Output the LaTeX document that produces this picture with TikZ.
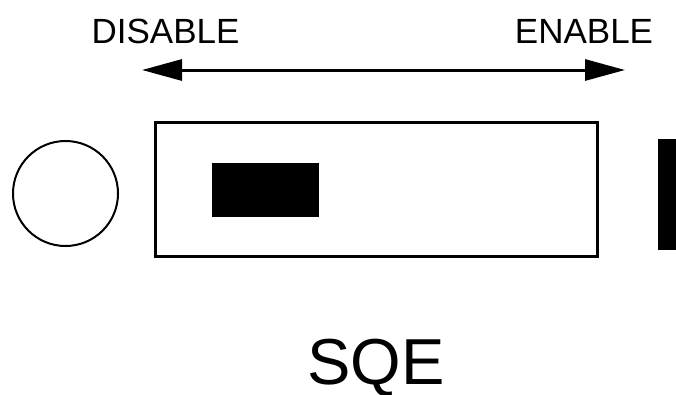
\documentclass[tikz,border=0pt]{standalone}
\usepackage{fontspec}
\setmainfont{Liberation Sans}
\usetikzlibrary{arrows.meta}

\begin{document}
\begin{tikzpicture}[x=1pt,y=-1pt,
    label/.style={anchor=base,inner sep=0pt,font=\fontsize{35}{35}\selectfont},
    blk/.style={fill=black,draw=none,inner sep=0pt}]
    \useasboundingbox (0,0) rectangle (676,394);

    % Direction labels and arrow
    \node[label] (dis) at (165.5,43) {DISABLE};
    \node[label] (ena) at (584,43) {ENABLE};
    \coordinate (disend) at (142,70);
    \coordinate (enaend) at (625,70);
    \draw[line width=3pt,{Triangle[length=40pt,width=21pt]}-{Triangle[length=40pt,width=21pt]}]
        (disend) -- (enaend);

    % Switch body
    \node[draw,circle,line width=2pt,minimum size=105pt,inner sep=0pt] (led) at (65.5,193.5) {};
    \node[draw,line width=3pt,minimum width=442pt,minimum height=134pt,inner sep=0pt] (body) at (376.5,189.5) {};
    \node[blk,minimum width=107pt,minimum height=54pt] (knob) at (265.5,190) {};
    \node[blk,minimum width=18pt,minimum height=111pt] (bar) at (667,194.5) {};

    % Name
    \node[anchor=base,inner sep=0pt,font=\fontsize{65}{65}\selectfont] (name) at (376,384) {SQE};
\end{tikzpicture}
\end{document}
